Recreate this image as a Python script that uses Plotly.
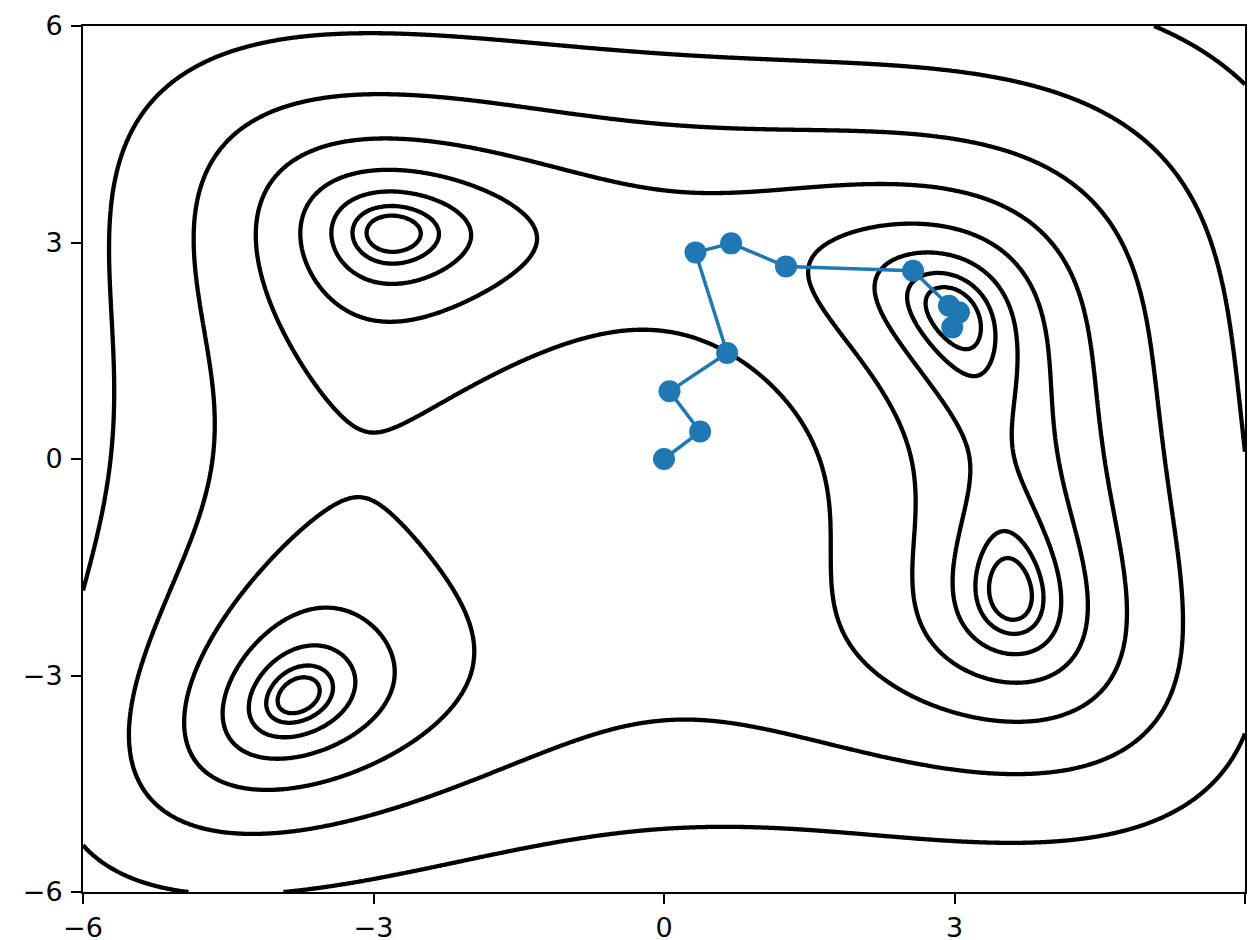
import numpy as np
import plotly.graph_objects as go

# Optimisation path
path_x = [0.0, 0.373, 0.057, 0.652, 0.325, 0.693, 1.260, 2.572, 2.943, 3.046, 2.977]
path_y = [0.0, 0.380, 0.938, 1.470, 2.863, 2.988, 2.669, 2.609, 2.124, 2.032, 1.824]

# Contour levels (log10 of the function value): 10**0.4 ... 10**3.2
level_start = 0.4
level_end = 3.2
level_step = 0.4

tick_vals = [-6, -3, 0, 3, 6]

# Surface: Himmelblau function on a grid
gx = np.linspace(-6, 6, 601)
gy = np.linspace(-6, 6, 601)
X, Y = np.meshgrid(gx, gy)
Z = (X**2 + Y - 11) ** 2 + (X + Y**2 - 7) ** 2
LZ = np.log10(np.maximum(Z, 1e-9))

fig = go.Figure()
fig.add_trace(go.Contour(
    x=gx, y=gy, z=LZ,
    autocontour=False,
    contours=dict(start=level_start, end=level_end, size=level_step, coloring="lines"),
    colorscale=[[0, "black"], [1, "black"]],
    line=dict(width=4.3, smoothing=1),
    showscale=False,
    hoverinfo="skip",
))
fig.add_trace(go.Scatter(
    x=path_x, y=path_y, mode="lines+markers",
    line=dict(color="#1f77b4", width=3.5),
    marker=dict(color="#1f77b4", size=22),
    showlegend=False,
))

axis_common = dict(
    range=[-6, 6],
    tickvals=tick_vals,
    showgrid=False,
    zeroline=False,
    showline=True,
    linecolor="black",
    linewidth=2,
    mirror=True,
    ticks="outside",
    ticklen=10,
    tickwidth=2,
    tickcolor="black",
    automargin=False,
    tickfont=dict(family="DejaVu Sans", size=27, color="black"),
)

fig.update_layout(
    template="none",
    width=1253, height=940,
    margin=dict(l=83, r=8, t=26, b=48),
    plot_bgcolor="white",
    paper_bgcolor="white",
    xaxis=dict(**axis_common, ticklabelstandoff=1),
    yaxis=dict(**axis_common, ticklabelstandoff=3),
    showlegend=False,
)

fig.write_html(
    "out.html",
    config={"displayModeBar": False},
    post_script="document.body.style.margin='0';document.body.style.overflow='hidden';",
)
